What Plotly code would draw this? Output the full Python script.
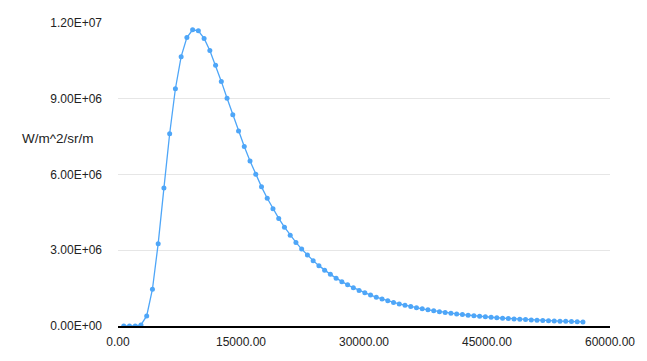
import plotly.graph_objects as go

# Wavelength (nm)
wavelength_nm = [700 * k for k in range(1, 82)]

# Spectral radiance (W/m^2/sr/m)
radiance = [
    0.0, 0.1, 742, 44140, 397400, 1455000, 3260000, 5462000, 7615000, 9396000,
    10667000, 11424000, 11733000, 11690000, 11389000, 10913000, 10329000, 9687000, 9022000, 8362000,
    7721000, 7112000, 6538000, 6005000, 5511000, 5057000, 4642000, 4261000, 3914000, 3597000,
    3309000, 3046000, 2807000, 2589000, 2391000, 2210000, 2045400, 1894700, 1757000, 1631200,
    1515900, 1410300, 1313400, 1224300, 1142600, 1067300, 998000, 934000, 875000, 820500,
    770100, 723300, 680100, 640000, 602600, 568000, 535700, 505700, 477800, 451700,
    427300, 404500, 383300, 363300, 344600, 327200, 310800, 295400, 280900, 267300,
    254500, 242500, 231100, 220400, 210400, 200800, 191800, 183300, 175300, 167700,
    160500,
]

y_tickvals = [0, 3e6, 6e6, 9e6, 1.2e7]
y_ticktext = ["0.00E+00", "3.00E+06", "6.00E+06", "9.00E+06", "1.20E+07"]
x_tickvals = [0, 15000, 30000, 45000, 60000]
x_ticktext = ["0.00", "15000.00", "30000.00", "45000.00", "60000.00"]

color = "#4ea6f8"
font = "Liberation Sans, Arial, Helvetica, sans-serif"

fig = go.Figure()
fig.add_trace(go.Scatter(
    x=wavelength_nm, y=radiance, mode="lines+markers",
    line=dict(color=color, width=1.3),
    marker=dict(color=color, size=5),
    showlegend=False,
))

fig.update_layout(
    width=647, height=361,
    margin=dict(l=118, r=31, t=23, b=29),
    paper_bgcolor="white", plot_bgcolor="white",
    font=dict(family=font, size=12, color="#222222"),
    xaxis=dict(
        range=[0, 60000], tickvals=x_tickvals, ticktext=x_ticktext,
        showgrid=False, zeroline=False, showline=True, linecolor="black",
        linewidth=1.6, ticks="", ticklabelstandoff=4,
    ),
    yaxis=dict(
        range=[0, 1.2e7], tickvals=y_tickvals, ticktext=y_ticktext,
        showgrid=True, gridcolor="#e6e6e6", gridwidth=1,
        zeroline=False, showline=False, ticks="", ticklabelstandoff=15,
    ),
    annotations=[dict(
        text="W/m^2/sr/m", xref="paper", yref="paper",
        x=-0.1215, y=0.619, xanchor="center", yanchor="middle",
        showarrow=False, font=dict(family=font, size=13.5, color="#222222"),
    )],
)

fig.write_html("out.html")
